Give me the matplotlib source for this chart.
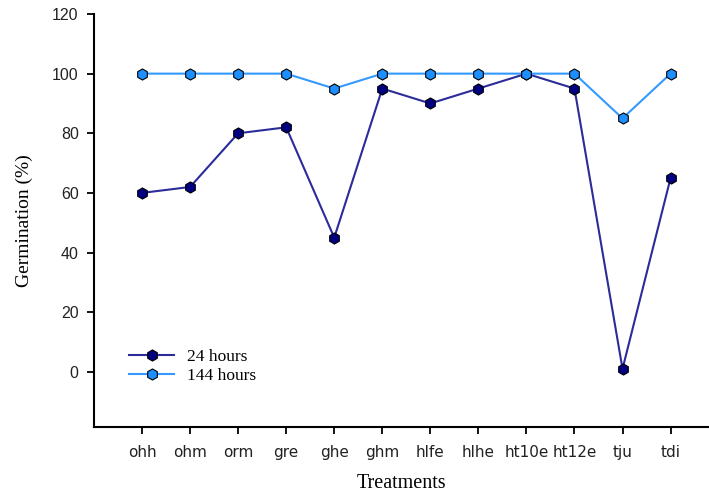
import numpy as np
import matplotlib.pyplot as plt

# germination data per treatment
treatments = ['ohh', 'ohm', 'orm', 'gre', 'ghe', 'ghm', 'hlfe', 'hlhe',
              'ht10e', 'ht12e', 'tju', 'tdi']
germ_24h = [60, 62, 80, 82, 45, 95, 90, 95, 100, 95, 1, 65]
germ_144h = [100, 100, 100, 100, 95, 100, 100, 100, 100, 100, 85, 100]

x = np.arange(len(treatments))

fig = plt.figure(figsize=(7.09, 4.95), dpi=100)
ax = fig.add_axes([0.1326, 0.1374, 0.8674, 0.8343])

ax.plot(x, germ_24h, '-', color='#2b2b9a', lw=1.5, marker='h', ms=8,
        mfc='#000080', mec='black', mew=0.8, label='24 hours')
ax.plot(x, germ_144h, '-', color='#3399ff', lw=1.5, marker='h', ms=8,
        mfc='#1e8fff', mec='black', mew=0.8, label='144 hours')

ax.set_xlim(-1, 11.8)
ax.set_ylim(-18.5, 120)
ax.set_yticks([0, 20, 40, 60, 80, 100, 120])
ax.set_xticks(x)
ax.set_xticklabels(treatments)

for s in ['top', 'right']:
    ax.spines[s].set_visible(False)
for s in ['left', 'bottom']:
    ax.spines[s].set_linewidth(1.5)
ax.tick_params(direction='out', length=5, width=1.3, pad=6)
for lab in ax.get_yticklabels():
    lab.set_family('Liberation Sans')
    lab.set_fontsize(11.5)
    lab.set_color('#222222')
for lab in ax.get_xticklabels():
    lab.set_family('DejaVu Sans')
    lab.set_fontsize(11)
    lab.set_color('#222222')
ax.tick_params(axis='x', pad=8)

ax.set_xlabel('Treatments', family='Liberation Serif', fontsize=14.5, labelpad=10)
ax.set_ylabel('Germination (%)', family='Liberation Serif', fontsize=14, labelpad=14)

ax.legend(loc='lower left', bbox_to_anchor=(0.032, 0.067), frameon=False,
          prop={'family': 'Liberation Serif', 'size': 12.5},
          handlelength=2.6, handletextpad=0.7, labelspacing=0.15)

plt.savefig('out.png', dpi=100)
